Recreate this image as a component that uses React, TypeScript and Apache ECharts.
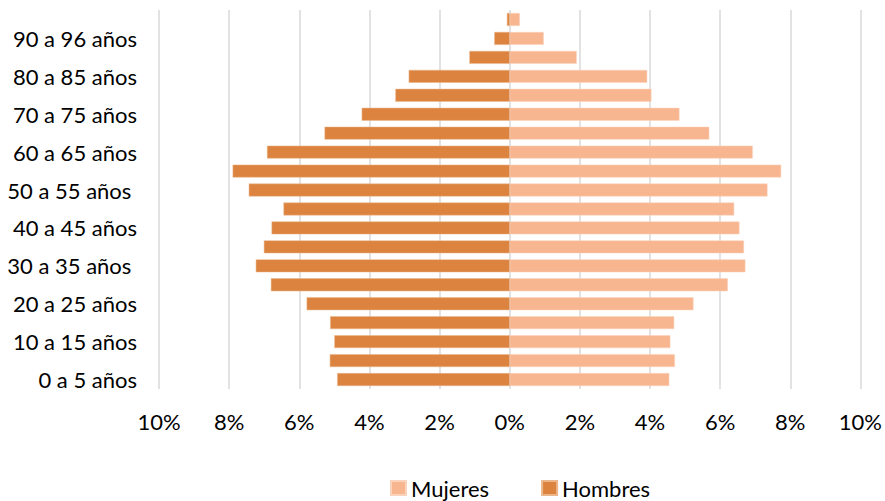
import React, { useEffect, useRef } from "react";
import * as echarts from "echarts";

const categories = [
  "0 a 5 años", "5 a 10 años", "10 a 15 años", "15 a 20 años", "20 a 25 años",
  "25 a 30 años", "30 a 35 años ", "35 a 40 años", "40 a 45 años", "45 a 50 años",
  "50 a 55 años ", "55 a 60 años", "60 a 65 años", "65 a 70 años", "70 a 75 años",
  "75 a 80 años", "80 a 85 años", "85 a 90 años", "90 a 96 años", "96 y más años",
];

const mujeres = [
  4.55, 4.71, 4.58, 4.69, 5.24, 6.22, 6.72, 6.68, 6.55, 6.40,
  7.35, 7.74, 6.93, 5.69, 4.84, 4.04, 3.92, 1.91, 0.97, 0.29,
];

const hombres = [
  4.92, 5.13, 5.0, 5.12, 5.79, 6.81, 7.24, 7.01, 6.79, 6.45,
  7.44, 7.9, 6.92, 5.28, 4.22, 3.26, 2.88, 1.15, 0.44, 0.08,
];

const xTicks = { min: -10, max: 10, interval: 2 };

const FONT = "Lato";
const FS = 22;

export default function App() {
  const ref = useRef<HTMLDivElement>(null);
  useEffect(() => {
    if (!ref.current) return;
    const chart = echarts.init(ref.current, null, { renderer: "svg" });
    chart.setOption({
      animation: false,
      backgroundColor: "#ffffff",
      textStyle: { fontFamily: FONT },
      grid: { left: 159, right: 23, top: 10, bottom: 112, containLabel: false },
      legend: {
        data: ["Mujeres", "Hombres"],
        top: 472,
        left: 385,
        padding: 5,
        icon: "rect",
        itemWidth: 15,
        itemHeight: 14,
        itemGap: 52,
        textStyle: { fontFamily: FONT, fontSize: FS, color: "#000" },
      },
      xAxis: {
        type: "value",
        min: xTicks.min,
        max: xTicks.max,
        interval: xTicks.interval,
        axisLine: { show: false },
        axisTick: { show: false },
        splitLine: { show: true, lineStyle: { color: "#d9d9d9", width: 1.5 } },
        axisLabel: {
          margin: 21,
          fontFamily: FONT,
          fontSize: FS,
          color: "#000",
          formatter: (v: number) => Math.abs(Math.round(v)) + "%",
        },
      },
      yAxis: {
        type: "category",
        data: categories,
        axisLine: { show: false },
        axisTick: { show: false },
        axisLabel: {
          interval: 1,
          margin: 22,
          fontFamily: FONT,
          fontSize: FS,
          color: "#000",
        },
      },
      series: [
        {
          name: "Mujeres",
          type: "bar",
          data: mujeres,
          barCategoryGap: "32%",
          barGap: "-100%",
          itemStyle: { color: "#F8B690", borderColor: "#fbd3bd", borderWidth: 0.5 },
        },
        {
          name: "Hombres",
          type: "bar",
          data: hombres.map((v) => -v),
          barCategoryGap: "32%",
          barGap: "-100%",
          itemStyle: { color: "#DC843F", borderColor: "#ebb68c", borderWidth: 0.5 },
        },
      ],
    });
    return () => chart.dispose();
  }, []);
  return (
    <div
      ref={ref}
      style={{ position: "fixed", left: 0, top: 0, width: 885, height: 501 }}
    />
  );
}
